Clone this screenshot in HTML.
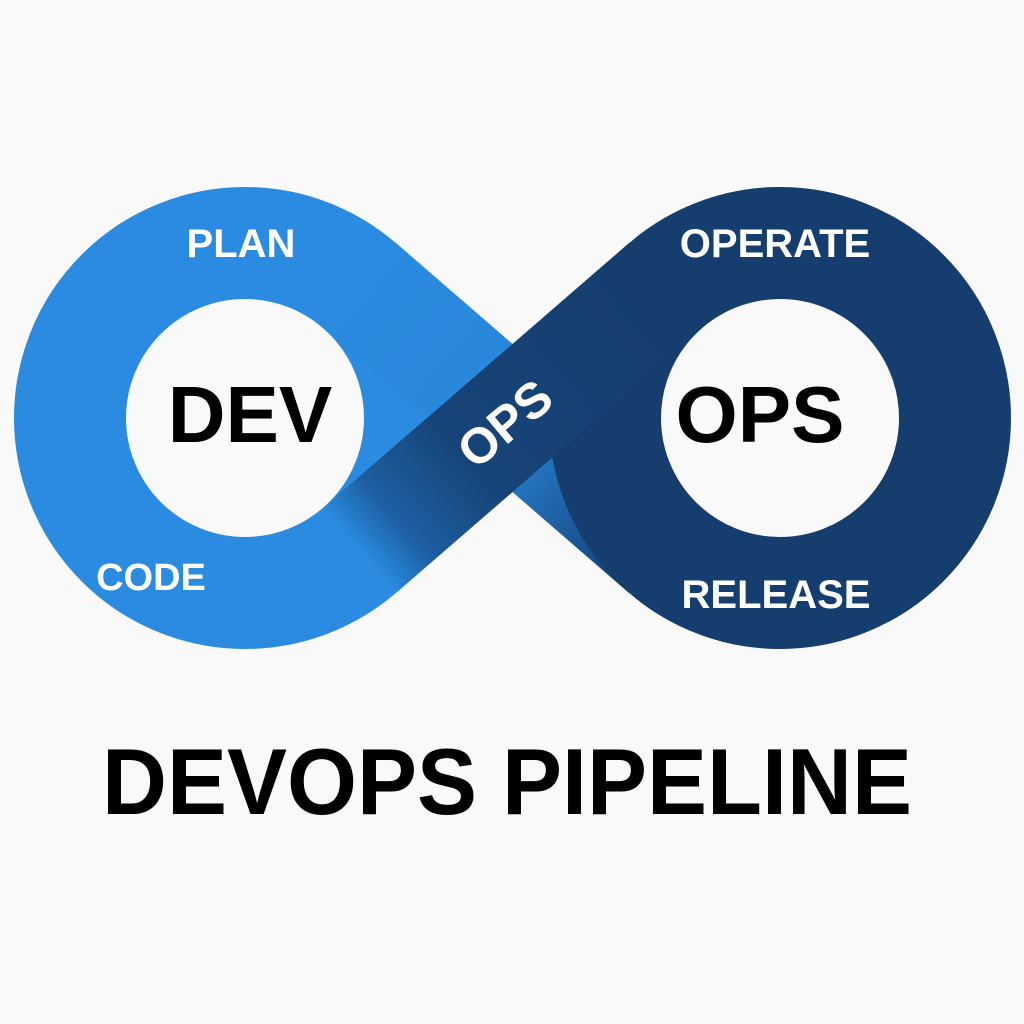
<!DOCTYPE html>
<html><head><meta charset="utf-8"><style>
html,body{margin:0;padding:0;background:#f9f9f9;}
svg{display:block;}
</style></head><body>
<svg width="1024" height="1024" viewBox="0 0 1024 1024" xmlns="http://www.w3.org/2000/svg">
<defs>
<linearGradient id="lg1" gradientUnits="userSpaceOnUse" x1="359.5" y1="285.5" x2="665.5" y2="550.5">
<stop offset="0" stop-color="#2a8be0"/><stop offset="0.5" stop-color="#2a86da"/><stop offset="0.8" stop-color="#1c5898"/><stop offset="1" stop-color="#153d6e"/>
</linearGradient>
<linearGradient id="lg2" gradientUnits="userSpaceOnUse" x1="665.5" y1="285.5" x2="359.5" y2="550.5">
<stop offset="0" stop-color="#153d6e"/><stop offset="0.65" stop-color="#174478"/><stop offset="0.88" stop-color="#1d5fa2"/><stop offset="1" stop-color="#2a8be0"/>
</linearGradient>
</defs>
<rect width="1024" height="1024" fill="#f9f9f9"/>
<circle cx="245" cy="418" r="175" fill="none" stroke="#2a8be0" stroke-width="112"/>
<line x1="359.5" y1="285.5" x2="665.5" y2="550.5" stroke="url(#lg1)" stroke-width="112"/>
<circle cx="780" cy="418" r="175" fill="none" stroke="#153d6e" stroke-width="112"/>
<line x1="665.5" y1="285.5" x2="359.5" y2="550.5" stroke="url(#lg2)" stroke-width="112"/>
<g font-family="Liberation Sans, sans-serif" font-weight="bold" text-anchor="middle">
<text x="241" y="257" font-size="40" fill="#fff">PLAN</text>
<text x="775" y="257" font-size="40" fill="#fff">OPERATE</text>
<text x="151" y="590" font-size="38" fill="#fff">CODE</text>
<text x="776" y="608" font-size="40" fill="#fff">RELEASE</text>
<text x="250" y="442" font-size="80" fill="#000">DEV</text>
<text x="760" y="442" font-size="80" fill="#000">OPS</text>
<text x="0" y="0" font-size="50" fill="#fff" transform="translate(516,437) rotate(-40)">OPS</text>
<text x="507" y="814" font-size="94" fill="#000" textLength="810" lengthAdjust="spacingAndGlyphs">DEVOPS PIPELINE</text>
</g>
</svg>
</body></html>
